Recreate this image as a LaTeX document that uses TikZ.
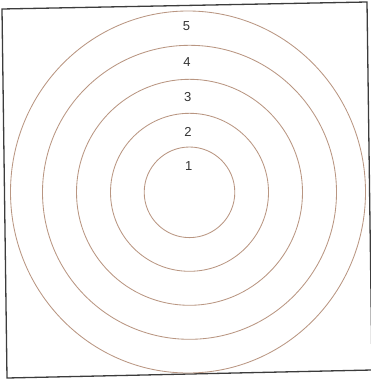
\documentclass[tikz,border=0pt]{standalone}
\usepackage{fontspec}
\setmainfont{Liberation Sans}
\definecolor{ringcol}{RGB}{185,150,130}
\definecolor{framecol}{RGB}{60,60,60}
\begin{document}
\begin{tikzpicture}[x=1pt,y=-1pt,
  ring/.style={draw=ringcol,line width=0.85pt},
  num/.style={font=\fontsize{13}{15}\selectfont,text=black!80,inner sep=0pt}]
\useasboundingbox (0,0) rectangle (371,380);
\draw[framecol,line width=1.3pt] (2,9) -- (367,2) -- (372,370) -- (7,378) -- cycle;
\coordinate (c) at (189.5,192.3);
\foreach \r in {45.3,79,113,147}
  \draw[ring] (c) circle[radius=\r];
\draw[ring] (188,192) ellipse[x radius=177.5,y radius=181];
\node[num] (n5) at (186.5,26) {5};
\node[num] (n4) at (187,62) {4};
\node[num] (n3) at (187.7,97.3) {3};
\node[num] (n2) at (188,131.7) {2};
\node[num] (n1) at (188.7,165.7) {1};
\end{tikzpicture}
\end{document}
